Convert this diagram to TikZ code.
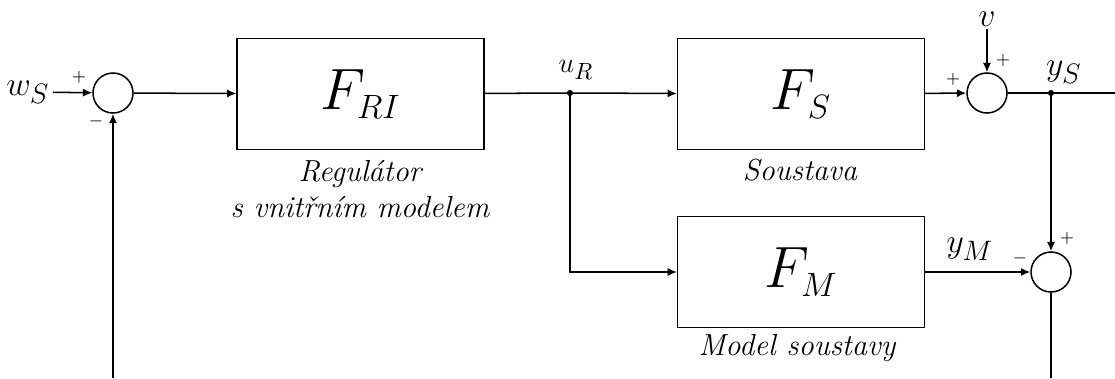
\documentclass[tikz,border=0pt]{standalone}
\usetikzlibrary{arrows.meta,positioning}

\newcommand{\blokF}[1]{$F_{\mbox{\Large$#1$}}$}
\newcommand{\sig}[2]{$#1_{\mbox{\large$#2$}}$}

\begin{document}
\begin{tikzpicture}[x=0.015cm,y=-0.015cm,line width=0.65pt,
    blok/.style={draw,minimum width=3.7cm,minimum height=1.66cm,inner sep=0pt,font=\Huge},
    suma/.style={draw,circle,minimum size=0.6cm,inner sep=0pt},
    sgn/.style={font=\scriptsize,inner sep=0pt},
    var/.style={font=\Large,inner sep=1pt},
    popis/.style={font=\fontsize{13}{15.5}\selectfont\itshape,align=center},
    sip/.style={-{Latex[length=4pt,width=3.5pt]}}]

    \useasboundingbox (0,0) rectangle (1115,378);

    % Blocks and summing points
    \node[var] (ws) at (28,92) {\sig{w}{S}};
    \node[suma] (s1) at (113,93) {};
    \node[blok] (fri) at (360.5,94) {\blokF{RI}};
    \coordinate (ur) at (570,93);
    \node[blok] (fs) at (801,94) {\blokF{S}};
    \node[blok] (fm) at (801,272) {\blokF{M}};
    \node[suma] (s2) at (987,93) {};
    \node[suma] (s3) at (1051,272) {};
    \coordinate (ys) at (1051,93);
    \node[var] (v) at (987,19) {$v$};
    \coordinate (out) at (1115,93);
    \coordinate (zp1) at (113,378);
    \coordinate (zp2) at (1051,378);

    % Signals
    \draw[sip] (ws) -- (s1);
    \draw[sip] (s1) -- (fri);
    \draw (fri) -- (ur);
    \draw[sip] (ur) -- (fs);
    \draw[sip] (ur) |- (fm);
    \draw[sip] (fs) -- (s2);
    \draw[sip] (v) -- (s2);
    \draw (s2) -- (ys) -- (out);
    \draw[sip] (ys) -- (s3);
    \draw[sip] (fm) -- (s3);
    \draw (s3) -- (zp2);
    \draw[sip] (zp1) -- (s1);
    \fill (ur) circle (1.3pt);
    \fill (ys) circle (1.3pt);

    % Labels
    \node[var,font=\large] (urlab) at (576,70) {$u_{\mbox{\normalsize$R$}}$};
    \node[var] (yslab) at (1064,72) {\sig{y}{S}};
    \node[var] (ymlab) at (970,249) {\sig{y}{M}};
    \node[popis] (fripop) at (360,189) {Regulátor\\s vnitřním modelem};
    \node[popis] (fspop) at (800,170) {Soustava};
    \node[popis] (fmpop) at (797,348) {Model soustavy};

    % Signs
    \foreach \n/\x/\y/\s in {z1/79/77/+, z2/96/121/-, z3/953/79/+, z4/1003/60/+, z5/1067/238/+, z6/1020/258/-}
        \node[sgn] (\n) at (\x,\y) {$\s$};

\end{tikzpicture}
\end{document}
